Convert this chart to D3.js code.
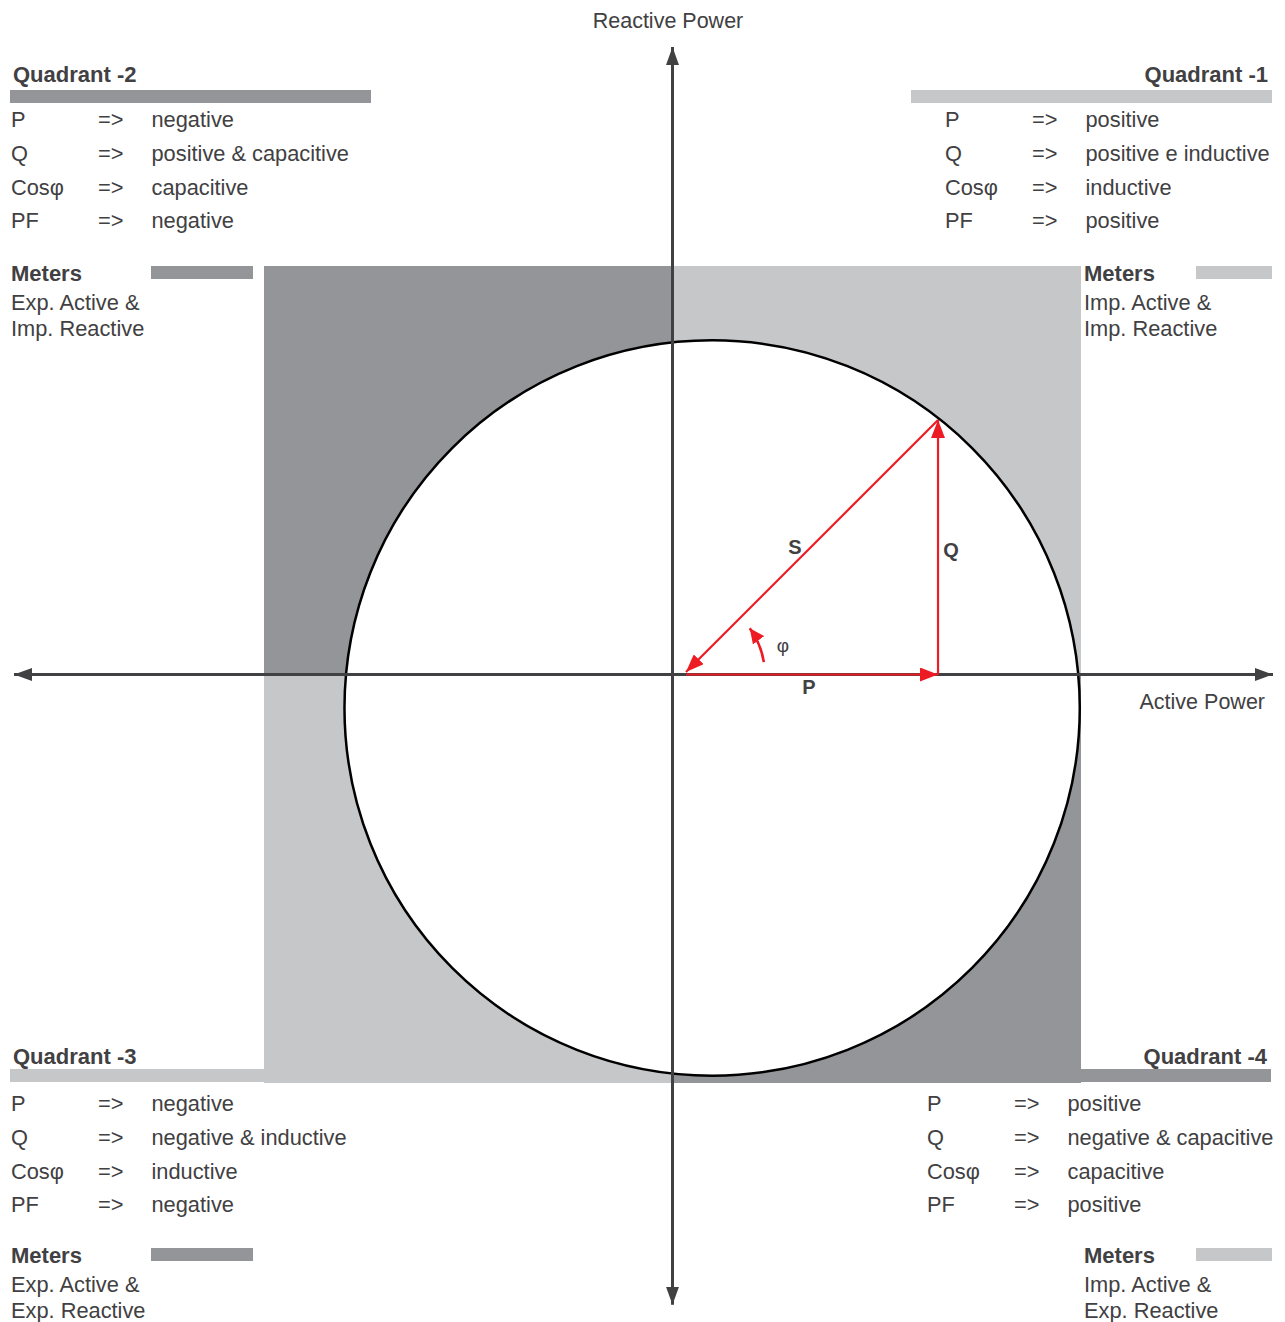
<!DOCTYPE html>
<html>
<head>
<meta charset="utf-8">
<script src="https://cdn.jsdelivr.net/npm/d3@7"></script>
<style>
  body { margin: 0; background: #fff; }
  svg text { font-family: "Liberation Sans", Arial, sans-serif; fill: #414042; }
</style>
</head>
<body>
<div id="chart"></div>
<script>
// Quadrant texts
const quadrantNames = ["Quadrant -1", "Quadrant -2", "Quadrant -3", "Quadrant -4"];
const rowLabels = ["P", "Q", "Cosφ", "PF"];
const q1Values = ["positive", "positive e inductive", "inductive", "positive"];
const q2Values = ["negative", "positive & capacitive", "capacitive", "negative"];
const q3Values = ["negative", "negative & inductive", "inductive", "negative"];
const q4Values = ["positive", "negative & capacitive", "capacitive", "positive"];
const meterLines = [
  ["Imp. Active &", "Imp. Reactive"],
  ["Exp. Active &", "Imp. Reactive"],
  ["Exp. Active &", "Exp. Reactive"],
  ["Imp. Active &", "Exp. Reactive"]
];
// quadrant signs (P, Q)
const quadSignP = [1, -1, -1, 1];
const quadSignQ = [1, 1, -1, -1];

// power triangle (normalised units)
const circleCenter = [0.097, -0.082];
const circleRadius = 0.90;
const pStart = 0.033;
const pValue = 0.65;
const qValue = 0.623;
const phiRadius = 0.193;
const phiFrom = 9, phiTo = 36; // degrees

const width = 1285, height = 1322;
const dark = "#939598", light = "#c6c7c9", axisColor = "#414042", red = "#ed1c24";
const quadColors = [light, dark, light, dark];

const x = d3.scaleLinear().domain([-1, 1]).range([264, 1081]);
const y = d3.scaleLinear().domain([-1, 1]).range([1083, 266]);

const svg = d3.select("#chart").append("svg")
  .attr("width", width).attr("height", height);

const defs = svg.append("defs");
function marker(id, color, len, w) {
  defs.append("marker")
    .attr("id", id)
    .attr("markerUnits", "userSpaceOnUse")
    .attr("viewBox", `0 ${-w / 2} ${len} ${w}`)
    .attr("refX", len).attr("refY", 0)
    .attr("markerWidth", len).attr("markerHeight", w)
    .attr("orient", "auto")
    .append("path")
    .attr("d", `M0,${-w / 2}L${len},0L0,${w / 2}Z`)
    .attr("fill", color);
}
marker("axisHead", axisColor, 18, 13);
marker("redHead", red, 18, 14);
marker("phiHead", red, 15, 14);

// Quadrant fills
svg.append("g").selectAll("rect")
  .data(quadSignP.map((s, i) => ({ sp: s, sq: quadSignQ[i], c: quadColors[i] })))
  .enter().append("rect")
  .attr("x", d => Math.min(x(0), x(d.sp)))
  .attr("y", d => Math.min(y(0), y(d.sq)))
  .attr("width", d => Math.abs(x(d.sp) - x(0)))
  .attr("height", d => Math.abs(y(d.sq) - y(0)))
  .attr("fill", d => d.c);

// Circle
svg.append("circle")
  .attr("cx", x(circleCenter[0]))
  .attr("cy", y(circleCenter[1]))
  .attr("r", x(circleRadius) - x(0))
  .attr("fill", "#fff")
  .attr("stroke", "#000")
  .attr("stroke-width", 2.5);

// Axes
const axes = [
  { x1: 0, y1: 0, x2: 1.47, y2: 0 },
  { x1: 0, y1: 0, x2: -1.612, y2: 0 },
  { x1: 0, y1: 0, x2: 0, y2: 1.536 },
  { x1: 0, y1: 0, x2: 0, y2: -1.543 }
];
svg.append("g").selectAll("line")
  .data(axes).enter().append("line")
  .attr("x1", d => x(d.x1)).attr("y1", d => y(d.y1))
  .attr("x2", d => x(d.x2)).attr("y2", d => y(d.y2))
  .attr("stroke", axisColor)
  .attr("stroke-width", 3)
  .attr("marker-end", "url(#axisHead)");

svg.append("text").attr("x", 668).attr("y", 28)
  .attr("text-anchor", "middle").attr("font-size", "21.5px").text("Reactive Power");
svg.append("text").attr("x", 1265).attr("y", 709)
  .attr("text-anchor", "end").attr("font-size", "21.5px").text("Active Power");

// Power triangle
const tri = svg.append("g")
  .attr("stroke", red).attr("stroke-width", 2.2).attr("fill", "none");
tri.append("line")
  .attr("x1", x(pStart)).attr("y1", y(0))
  .attr("x2", x(pValue)).attr("y2", y(0))
  .attr("marker-end", "url(#redHead)");
tri.append("line")
  .attr("x1", x(pValue)).attr("y1", y(0))
  .attr("x2", x(pValue)).attr("y2", y(qValue))
  .attr("marker-end", "url(#redHead)");
tri.append("line")
  .attr("x1", x(pValue)).attr("y1", y(qValue))
  .attr("x2", x(pStart)).attr("y2", y(0.006))
  .attr("marker-end", "url(#redHead)");

const phiPath = d3.path();
const rPx = x(phiRadius) - x(0);
phiPath.arc(x(pStart), y(0), rPx, -phiFrom * Math.PI / 180, -phiTo * Math.PI / 180, true);
tri.append("path")
  .attr("d", phiPath.toString())
  .attr("stroke-width", 2.6)
  .attr("marker-end", "url(#phiHead)");

const vecLabels = [
  { t: "S", px: 795, py: 554 },
  { t: "Q", px: 951, py: 557 },
  { t: "P", px: 809, py: 694 }
];
svg.append("g").selectAll("text")
  .data(vecLabels).enter().append("text")
  .attr("x", d => d.px).attr("y", d => d.py)
  .attr("text-anchor", "middle")
  .attr("font-size", "20px").attr("font-weight", "bold")
  .text(d => d.t);
svg.append("text").attr("x", 783).attr("y", 652)
  .attr("text-anchor", "middle").attr("font-size", "19px").text("φ");

// Quadrant legends
const values = [q1Values, q2Values, q3Values, q4Values];
const layout = [
  { title: [1268, 82, "end"], bar: [911, 90, 361], col: 945, row0: 127, meter: 1084, meterY: 281, mbar: 1196 },
  { title: [13, 82, "start"], bar: [10, 90, 361], col: 11, row0: 127, meter: 11, meterY: 281, mbar: 151 },
  { title: [13, 1064, "start"], bar: [10, 1069, 254], col: 11, row0: 1111, meter: 11, meterY: 1263, mbar: 151 },
  { title: [1267, 1064, "end"], bar: [1081, 1069, 190], col: 927, row0: 1111, meter: 1084, meterY: 1263, mbar: 1196 }
];
const barColors = [light, dark, light, dark];
const meterBarColors = [light, dark, dark, light];
const meterBarWidth = [76, 102, 102, 76];

quadrantNames.forEach((name, i) => {
  const L = layout[i];
  const g = svg.append("g");
  g.append("text")
    .attr("x", L.title[0]).attr("y", L.title[1])
    .attr("text-anchor", L.title[2])
    .attr("font-size", "22px").attr("font-weight", "bold")
    .text(name);
  g.append("rect")
    .attr("x", L.bar[0]).attr("y", L.bar[1])
    .attr("width", L.bar[2]).attr("height", 13)
    .attr("fill", barColors[i]);
  const rows = g.selectAll("g.row")
    .data(rowLabels.map((r, k) => ({ r, v: values[i][k], k })))
    .enter().append("g")
    .attr("transform", d => `translate(${L.col},${L.row0 + d.k * 33.8})`)
    .attr("font-size", "21.8px");
  rows.append("text").attr("x", 0).text(d => d.r);
  rows.append("text").attr("x", 87).text("=>");
  rows.append("text").attr("x", 140.5).text(d => d.v);

  g.append("text")
    .attr("x", L.meter).attr("y", L.meterY)
    .attr("font-size", "22px").attr("font-weight", "bold")
    .text("Meters");
  g.append("rect")
    .attr("x", L.mbar).attr("y", L.meterY - 15)
    .attr("width", meterBarWidth[i]).attr("height", 13)
    .attr("fill", meterBarColors[i]);
  g.selectAll("text.m")
    .data(meterLines[i]).enter().append("text")
    .attr("class", "m")
    .attr("x", L.meter)
    .attr("y", (d, k) => L.meterY + 29 + k * 26)
    .attr("font-size", "21.8px")
    .text(d => d);
});
</script>
</body>
</html>
